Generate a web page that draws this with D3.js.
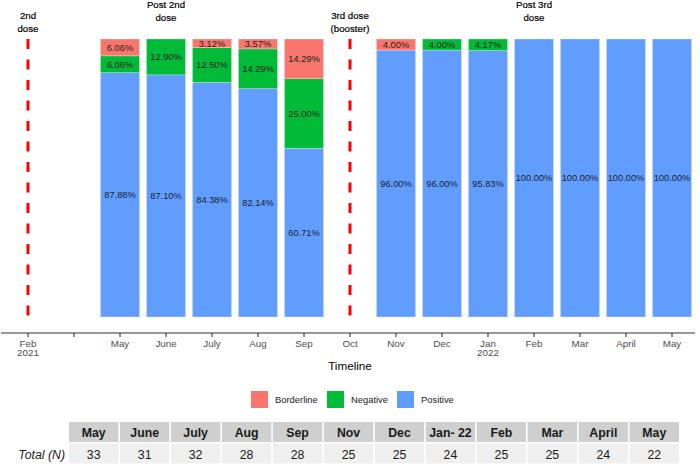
<!DOCTYPE html>
<html><head><meta charset="utf-8">
<script src="https://cdn.jsdelivr.net/npm/d3@7"></script>
<style>body{margin:0;background:#fff}svg{display:block;font-family:"Liberation Sans",Arial,sans-serif}</style>
</head><body><svg id="c" width="700" height="466"></svg>
<script>
// ---- data ----
const tickKeys = ["Feb 2021","gap","May 2021","June 2021","July 2021","Aug 2021","Sep 2021","Oct 2021","Nov 2021","Dec 2021","Jan 2022","Feb 2022","Mar 2022","April 2022","May 2022"];
const tickLabels = ["Feb\n2021","","May","June","July","Aug","Sep","Oct","Nov","Dec","Jan\n2022","Feb","Mar","April","May"];
const barMonths = ["May 2021","June 2021","July 2021","Aug 2021","Sep 2021","Nov 2021","Dec 2021","Jan 2022","Feb 2022","Mar 2022","April 2022","May 2022"];
const positive   = [87.88, 87.10, 84.38, 82.14, 60.71, 96.00, 96.00, 95.83, 100, 100, 100, 100];
const negative   = [6.06, 12.90, 12.50, 14.29, 25.00, 0, 4.00, 4.17, 0, 0, 0, 0];
const borderline = [6.06, 0, 3.12, 3.57, 14.29, 4.00, 0, 0, 0, 0, 0, 0];
const seriesNames = ["Positive","Negative","Borderline"];
const legendOrder = ["Borderline","Negative","Positive"];
const doseLines = ["Feb 2021","Oct 2021"];
const annotations = [
  {at:"Feb 2021", lines:["2nd","dose"], top:false},
  {at:"June 2021", lines:["Post 2nd","dose"], top:true},
  {at:"Oct 2021", lines:["3rd dose","(booster)"], top:false},
  {at:"Feb 2022", lines:["Post 3rd","dose"], top:true}
];
const tableMonths = ["May","June","July","Aug","Sep","Nov","Dec","Jan- 22","Feb","Mar","April","May"];
const totals = [33,31,32,28,28,25,25,24,25,25,24,22];
const axisTitle = "Timeline";
const rowLabel = "Total (N)";

// ---- drawing ----
const colors = {Borderline:"#F8766D", Negative:"#00BA38", Positive:"#619CFF"};
const svg = d3.select("#c");
const x = d3.scalePoint().domain(tickKeys).range([28, 672]);
const step = x.step();
const bw = step * 0.85;
const y = d3.scaleLinear().domain([0, 100]).range([317, 39]);

const rows = barMonths.map((m,i)=>({month:m, Positive:positive[i], Negative:negative[i], Borderline:borderline[i]}));
const stacked = d3.stack().keys(seriesNames)(rows);

// dose lines
svg.selectAll("line.dose").data(doseLines).join("line")
  .attr("x1", d=>x(d)).attr("x2", d=>x(d))
  .attr("y1", y(100)).attr("y2", y(0))
  .attr("stroke","#FF0000").attr("stroke-width",3).attr("stroke-dasharray","10,10.5");

// bars
const g = svg.append("g");
stacked.forEach(s=>{
  g.selectAll(null).data(s).join("rect")
    .attr("x", d=>x(d.data.month)-bw/2).attr("width", bw)
    .attr("y", d=>y(d[1])).attr("height", d=>y(d[0])-y(d[1]))
    .attr("fill", colors[s.key])
    .attr("stroke","#ffffff").attr("stroke-opacity",0.45).attr("stroke-width",0.6);
});
const fmt = d3.format(".2f");
stacked.forEach(s=>{
  g.selectAll(null).data(s.filter(d=>d[1]-d[0]>0)).join("text")
    .attr("x", d=>x(d.data.month)).attr("y", d=>y((d[0]+d[1])/2))
    .attr("dy","0.35em").attr("text-anchor","middle")
    .attr("font-size",9.3).attr("fill","#1f1f1f")
    .text(d=>fmt(d[1]-d[0])+"%");
});

// annotations
annotations.forEach(a=>{
  const t = svg.append("text").attr("x", x(a.at)).attr("text-anchor","middle")
    .attr("font-size",9.7).attr("fill","#000").attr("stroke","#000").attr("stroke-width",0.2);
  const y0 = a.top ? 8.3 : 18.5;
  a.lines.forEach((l,i)=>t.append("tspan").attr("x", x(a.at)).attr("y", y0 + i*13).text(l));
});

// x axis
const ax = svg.append("g").attr("transform","translate(0,333)");
ax.append("line").attr("x1",1).attr("x2",695).attr("stroke","#333").attr("stroke-width",1.1);
ax.selectAll("line.t").data(tickKeys).join("line")
  .attr("x1",d=>x(d)).attr("x2",d=>x(d)).attr("y1",0).attr("y2",4)
  .attr("stroke","#333").attr("stroke-width",1.1);
ax.selectAll("text").data(tickKeys).join("text")
  .attr("text-anchor","middle").attr("font-size",9.8).attr("fill","#4D4D4D")
  .each(function(d,i){
    tickLabels[i].split("\n").forEach((l,j)=>{
      d3.select(this).append("tspan").attr("x",x(d)).attr("y",13.6+j*9.8).text(l);
    });
  });
svg.append("text").attr("x", x("Oct 2021")).attr("y",369.5).attr("text-anchor","middle")
  .attr("font-size",11.7).attr("fill","#000").text(axisTitle);

// legend
const legX = [251, 327, 397];
legendOrder.forEach((k,i)=>{
  svg.append("rect").attr("x",legX[i]).attr("y",391).attr("width",17).attr("height",17).attr("fill",colors[k]);
  svg.append("text").attr("x",legX[i]+24).attr("y",402.6).attr("font-size",9.4).attr("fill","#1a1a1a").text(k);
});

// table
const tx = d3.scaleBand().domain(d3.range(tableMonths.length)).range([69, 679]).paddingInner(0.03);
const tw = svg.append("g");
tw.selectAll("rect.h").data(tableMonths).join("rect")
  .attr("x",(d,i)=>tx(i)).attr("y",422).attr("width",tx.bandwidth()).attr("height",20).attr("fill","#CFCFCF");
tw.selectAll("rect.v").data(totals).join("rect")
  .attr("x",(d,i)=>tx(i)).attr("y",443.5).attr("width",tx.bandwidth()).attr("height",20).attr("fill","#EFEFEF");
tw.selectAll("text.h").data(tableMonths).join("text")
  .attr("x",(d,i)=>tx(i)+tx.bandwidth()/2).attr("y",436.7).attr("text-anchor","middle")
  .attr("font-size",12.3).attr("font-weight","bold").attr("fill","#1a1a1a").text(d=>d);
tw.selectAll("text.v").data(totals).join("text")
  .attr("x",(d,i)=>tx(i)+tx.bandwidth()/2).attr("y",458.8).attr("text-anchor","middle")
  .attr("font-size",12.3).attr("fill","#1a1a1a").text(d=>d);
svg.append("text").attr("x",65).attr("y",458.8).attr("text-anchor","end")
  .attr("font-size",12.3).attr("font-style","italic").attr("fill","#1a1a1a").text(rowLabel);
</script></body></html>
